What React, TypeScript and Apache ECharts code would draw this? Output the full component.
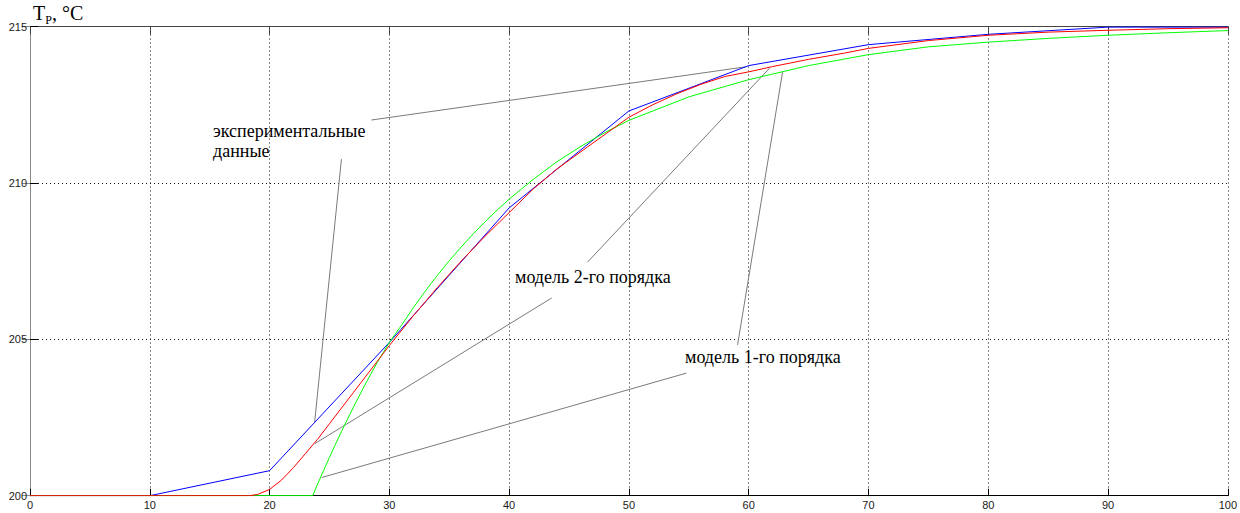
import React, { useEffect, useRef } from "react";
import * as echarts from "echarts";

// Experimental step response of the reactor temperature
const timeExp = [0, 10, 20, 30, 40, 50, 60, 70, 80, 90, 100];
const tempExp = [200, 200, 200.8, 204.9, 209.2, 212.3, 213.75, 214.42, 214.75, 214.98, 214.98];

// Second-order model response
const timeM2 = [0, 18.3, 19, 20, 21, 22, 23, 24, 25, 26, 27, 28, 29, 30, 32, 34, 36, 38, 40, 42, 44, 46, 48, 50, 52, 54, 56, 58, 60, 62, 65, 68, 70, 75, 80, 85, 90, 95, 100];
const tempM2 = [200, 200, 200.04, 200.2, 200.5, 200.9, 201.35, 201.8, 202.3, 202.8, 203.3, 203.8, 204.3, 204.8, 205.75, 206.65, 207.5, 208.3, 209.05, 209.8, 210.45, 211.0, 211.55, 212.1, 212.5, 212.85, 213.15, 213.4, 213.55, 213.72, 213.95, 214.15, 214.3, 214.55, 214.72, 214.82, 214.88, 214.93, 214.96];

// First-order model response
const timeM1 = [0, 23.6, 24, 25, 26, 27, 28, 29, 30, 31, 32, 33, 34, 35, 36, 37, 38, 39, 40, 42, 44, 46, 48, 50, 55, 60, 65, 70, 75, 80, 85, 90, 95, 100];
const tempM1 = [200, 200, 200.36, 201.23, 202.05, 202.83, 203.57, 204.27, 204.9, 205.44, 206.01, 206.54, 207.04, 207.51, 207.95, 208.37, 208.76, 209.13, 209.48, 210.11, 210.68, 211.17, 211.61, 212.0, 212.75, 213.3, 213.75, 214.1, 214.35, 214.5, 214.62, 214.72, 214.8, 214.87];

// Leader lines from the captions to the curves: [t, T] start and end
const leaderStarts = [[28.5, 212.01], [26.0, 210.76], [46.55, 207.47], [43.55, 206.32], [59.07, 204.82], [54.8, 203.92]];
const leaderEnds = [[59.74, 213.71], [23.76, 202.34], [61.75, 213.67], [23.76, 201.66], [62.83, 213.55], [24.35, 200.58]];

const xMin = 0, xMax = 100, xStep = 10;
const yMin = 200, yMax = 215, yStep = 5;

const zip = (xs: number[], ys: number[]) => xs.map((x, i) => [x, ys[i]]);

export default function App() {
  const ref = useRef<HTMLDivElement>(null);

  useEffect(() => {
    document.body.style.margin = "0";
    const chart = echarts.init(ref.current!, null, { renderer: "svg" });

    const dotted = { color: "#111", width: 1, type: [1, 3] as any };
    const labelFont = { fontFamily: "Liberation Sans", fontSize: 11, color: "#1a1a1a" };
    const serif = "Liberation Serif";
    const caption = { fontFamily: serif, fontSize: 18, fill: "#000", verticalAlign: "middle" };

    const leaders = leaderStarts.map((s, i) => ({
      type: "line",
      data: [s, leaderEnds[i]],
      showSymbol: false,
      silent: true,
      z: 1,
      lineStyle: { color: "#7a7a7a", width: 1 },
    }));

    chart.setOption({
      animation: false,
      backgroundColor: "#ffffff",
      grid: { left: 30, right: 12, top: 26.5, bottom: 17.3 },
      xAxis: [
        {
          type: "value",
          min: xMin, max: xMax, interval: xStep,
          position: "bottom",
          axisLine: { lineStyle: { color: "#000", width: 1 } },
          axisTick: { inside: true, length: 7, lineStyle: { color: "#000" } },
          axisLabel: { ...labelFont, margin: 4 },
          splitLine: { show: true, lineStyle: dotted },
        },
        {
          type: "value",
          min: xMin, max: xMax, interval: xStep,
          position: "top",
          axisLine: { lineStyle: { color: "#444", width: 1 } },
          axisTick: { inside: true, length: 8, lineStyle: { color: "#444" } },
          axisLabel: { show: false },
          splitLine: { show: false },
        },
      ],
      yAxis: [
        {
          type: "value",
          min: yMin, max: yMax, interval: yStep,
          position: "left",
          axisLine: { show: true, lineStyle: { color: "#000", width: 1 } },
          axisTick: { show: true, inside: true, length: 8, lineStyle: { color: "#000" } },
          axisLabel: { ...labelFont, margin: 3 },
          splitLine: { show: true, lineStyle: dotted },
        },
        {
          type: "value",
          min: yMin, max: yMax, interval: yStep,
          position: "right",
          axisLine: { show: true, lineStyle: { color: "#888", width: 1 } },
          axisTick: { show: true, inside: true, length: 8, lineStyle: { color: "#888" } },
          axisLabel: { show: false },
          splitLine: { show: false },
        },
      ],
      series: [
        ...leaders,
        {
          type: "line", name: "exp", data: zip(timeExp, tempExp),
          showSymbol: false, z: 2, lineStyle: { color: "#0000ff", width: 1 },
        },
        {
          type: "line", name: "m1", data: zip(timeM1, tempM1),
          showSymbol: false, z: 3, lineStyle: { color: "#00ff00", width: 1 },
        },
        {
          type: "line", name: "m2", data: zip(timeM2, tempM2),
          showSymbol: false, z: 4, lineStyle: { color: "#ff0000", width: 1 },
        },
      ],
      graphic: [
        {
          type: "text", left: 33, top: 3,
          style: {
            text: "{a|T}{b|P}{a|, °C}",
            rich: {
              a: { fontFamily: serif, fontSize: 20, fill: "#000", verticalAlign: "bottom" },
              b: { fontFamily: serif, fontSize: 12, fill: "#000", verticalAlign: "bottom", padding: [0, 0, -3, 0] },
            },
          },
        },
        { type: "text", x: 213, y: 131, style: { ...caption, text: "экспериментальные" } },
        { type: "text", x: 213, y: 151, style: { ...caption, text: "данные" } },
        { type: "text", x: 515, y: 277, style: { ...caption, text: "модель 2-го порядка" } },
        { type: "text", x: 685, y: 357, style: { ...caption, text: "модель 1-го порядка" } },
      ],
    });

    return () => chart.dispose();
  }, []);

  return <div ref={ref} style={{ position: "absolute", left: 0, top: 0, width: 1240, height: 513 }} />;
}
